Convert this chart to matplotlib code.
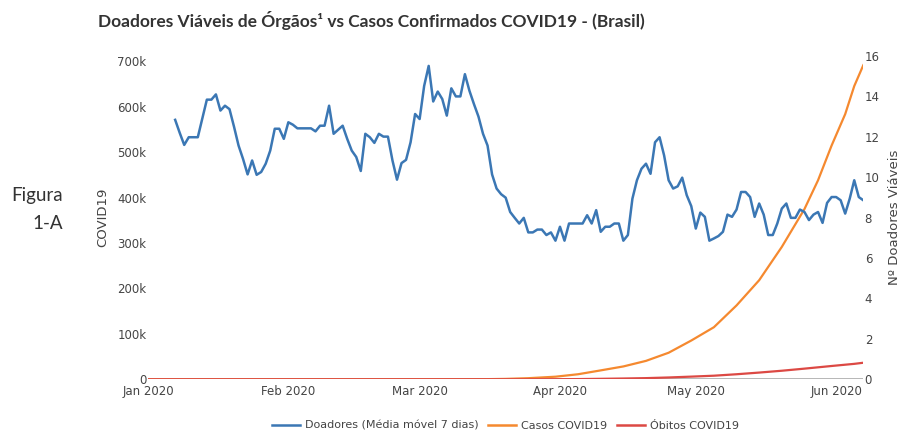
import matplotlib
matplotlib.use('Agg')
import matplotlib.pyplot as plt
import pandas as pd
from matplotlib.ticker import FuncFormatter, MultipleLocator
import matplotlib.dates as mdates
from matplotlib.lines import Line2D

plt.rcParams['font.family'] = ['DejaVu Sans']

# ---------------- data ----------------
doadores_inicio = '2020-01-07'
doadores = [
    12.84, 12.2, 11.6, 11.98, 11.98, 11.98, 12.9, 13.84, 13.84, 14.1,
    13.3, 13.54, 13.37, 12.5, 11.57, 10.9, 10.14, 10.83, 10.12, 10.26,
    10.67, 11.32, 12.4, 12.4, 11.9, 12.72, 12.6, 12.42, 12.42, 12.42,
    12.42, 12.27, 12.55, 12.55, 13.54, 12.15, 12.35, 12.55, 11.9, 11.32,
    11.0, 10.31, 12.15, 11.98, 11.7, 12.15, 12.01, 12.01, 10.83, 9.88,
    10.7, 10.86, 11.73, 13.13, 12.88, 14.52, 15.51, 13.75, 14.24, 13.87,
    13.05, 14.4, 14.0, 14.0, 15.1, 14.28, 13.62, 13.0, 12.15, 11.57,
    10.14, 9.44, 9.16, 8.99, 8.28, 7.99, 7.71, 7.99, 7.27, 7.27,
    7.41, 7.41, 7.14, 7.27, 6.86, 7.55, 6.86, 7.71, 7.71, 7.71,
    7.71, 8.12, 7.71, 8.37, 7.3, 7.55, 7.55, 7.71, 7.71, 6.86,
    7.14, 8.94, 9.85, 10.42, 10.67, 10.17, 11.73, 11.98, 11.08, 9.85,
    9.44, 9.55, 9.98, 9.11, 8.57, 7.46, 8.25, 8.04, 6.86, 6.97,
    7.09, 7.30, 8.15, 8.04, 8.40, 9.27, 9.27, 9.02, 8.04, 8.70,
    8.15, 7.14, 7.14, 7.71, 8.45, 8.70, 7.99, 7.99, 8.40, 8.28,
    7.88, 8.15, 8.28, 7.74, 8.73, 9.02, 9.02, 8.86, 8.20, 8.94,
    9.85, 9.02, 8.86,
]

casos_datas = ['2020-01-01', '2020-02-26', '2020-03-10', '2020-03-15', '2020-03-20',
               '2020-03-25', '2020-03-31', '2020-04-05', '2020-04-10', '2020-04-15',
               '2020-04-20', '2020-04-25', '2020-04-30', '2020-05-05', '2020-05-10',
               '2020-05-15', '2020-05-20', '2020-05-25', '2020-05-28', '2020-05-31',
               '2020-06-03', '2020-06-05', '2020-06-07']
casos = [0, 1, 34, 200, 904,
         2433, 5717, 11130, 19638, 28320,
         40581, 58509, 85380, 114715, 162699,
         218223, 291579, 374898, 438238, 514849,
         584016, 645771, 691758]

obitos_datas = ['2020-01-01', '2020-03-17', '2020-03-25', '2020-03-31', '2020-04-05',
                '2020-04-10', '2020-04-15', '2020-04-20', '2020-04-25', '2020-04-30',
                '2020-05-05', '2020-05-10', '2020-05-15', '2020-05-20', '2020-05-25',
                '2020-05-31', '2020-06-05', '2020-06-07']
obitos = [0, 1, 57, 201, 486,
          1056, 1736, 2575, 4016, 5901,
          7921, 11123, 14817, 18859, 23473,
          29314, 34021, 36455]

titulo = 'Doadores Viáveis de Órgãos¹ vs Casos Confirmados COVID19 - (Brasil)'
nomes = ['Doadores (Média móvel 7 dias)', 'Casos COVID19', 'Óbitos COVID19']

# ---------------- style ----------------
c_blue = '#3b77b4'
c_orange = '#f5892f'
c_red = '#dc4944'
tick_c = '#444444'

fig = plt.figure(figsize=(9, 4.34), dpi=100)
ax = fig.add_axes([148/900, 1-379.3/434, (863.3-148)/900, (379.3-56)/434])
ax2 = ax.twinx()

d_dates = pd.date_range(doadores_inicio, periods=len(doadores), freq='D')
l2, = ax.plot(pd.to_datetime(casos_datas), casos, color=c_orange, lw=1.6, zorder=3)
l3, = ax.plot(pd.to_datetime(obitos_datas), obitos, color=c_red, lw=1.6, zorder=4)
l1, = ax2.plot(d_dates, doadores, color=c_blue, lw=1.8, zorder=3)

ax.axhline(0, color='#aaaaaa', lw=1.2, zorder=2)

ax.set_xlim(pd.Timestamp('2020-01-01'), pd.Timestamp('2020-06-07'))
ax.set_ylim(0, 712000)
ax2.set_ylim(0, 16)

ax.yaxis.set_major_locator(MultipleLocator(100000))
ax.yaxis.set_major_formatter(FuncFormatter(lambda v, p: '0' if v == 0 else f'{int(v/1000)}k'))
ax2.yaxis.set_major_locator(MultipleLocator(2))
ax.xaxis.set_major_locator(mdates.MonthLocator())
ax.xaxis.set_major_formatter(mdates.DateFormatter('%b %Y'))

for a in (ax, ax2):
    for s in a.spines.values():
        s.set_visible(False)
    a.tick_params(axis='y', length=0, colors=tick_c, labelsize=8.5, pad=1.0)
    a.set_facecolor('none')
ax.tick_params(axis='x', length=0, colors=tick_c, labelsize=8.5, pad=4)

ax.set_ylabel('COVID19', color=tick_c, fontsize=9.5, labelpad=6)
ax2.set_ylabel('Nº Doadores Viáveis', color=tick_c, fontsize=9.5, labelpad=6)

fig.text(98/900, 1-20/434, titulo, fontsize=12.5, fontweight='bold',
         family='Lato', color='#333333', ha='left', va='center')
fig.text(63/900, 1-195/434, 'Figura', fontsize=13.5, family='Lato',
         color='#333333', ha='right', va='center')
fig.text(63/900, 1-223/434, '1-A', fontsize=13.5, family='Lato',
         color='#333333', ha='right', va='center')

handles = [Line2D([], [], color=c, lw=1.8) for c in (c_blue, c_orange, c_red)]
fig.legend(handles, nomes, loc='center', bbox_to_anchor=(505.6/900, 1-426/434),
           ncol=3, frameon=False, fontsize=8.0, handlelength=2.5,
           handletextpad=0.45, columnspacing=0.9, labelcolor=tick_c)

fig.savefig('out.png', dpi=100)
